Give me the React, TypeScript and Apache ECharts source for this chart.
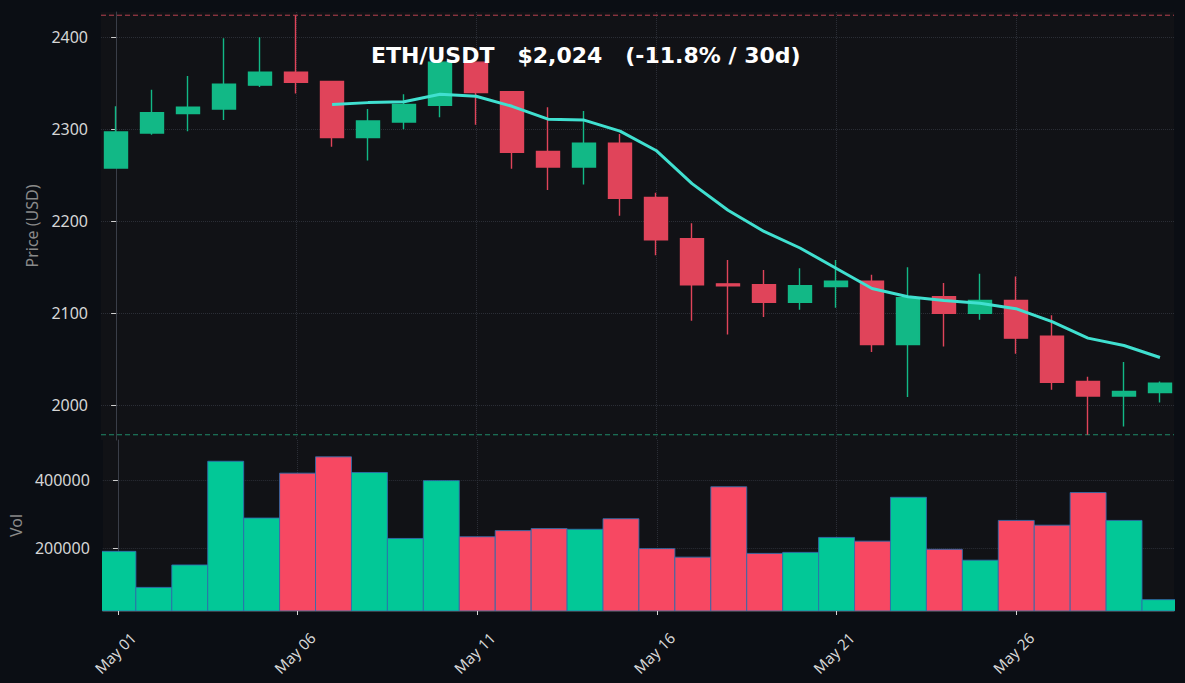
import React, { useEffect, useRef } from "react";
import * as echarts from "echarts";

const dates = [
  "May 01", "May 02", "May 03", "May 04", "May 05", "May 06", "May 07", "May 08", "May 09", "May 10",
  "May 11", "May 12", "May 13", "May 14", "May 15", "May 16", "May 17", "May 18", "May 19", "May 20",
  "May 21", "May 22", "May 23", "May 24", "May 25", "May 26", "May 27", "May 28", "May 29", "May 30",
];
const opens = [
  2258, 2296, 2317, 2322, 2348, 2362, 2352, 2291, 2308, 2326,
  2373, 2341, 2276, 2259, 2285, 2226, 2181, 2132, 2131, 2112,
  2129, 2135, 2066, 2118, 2100, 2114, 2075, 2026, 2010, 2014,
];
const closes = [
  2297, 2318, 2324, 2349, 2362, 2351, 2291, 2309, 2327, 2373,
  2340, 2275, 2259, 2285, 2225, 2180, 2131, 2130, 2112, 2130,
  2135, 2066, 2117, 2100, 2114, 2073, 2025, 2010, 2015, 2024,
];
const lows = [
  2257, 2294, 2298, 2310, 2346, 2339, 2281, 2266, 2300, 2313,
  2305, 2257, 2234, 2240, 2206, 2163, 2092, 2077, 2096, 2104,
  2106, 2058, 2009, 2064, 2093, 2056, 2017, 1968, 1977, 2003,
];
const highs = [
  2325, 2343, 2358, 2399, 2400, 2424, 2352, 2322, 2338, 2373,
  2373, 2341, 2324, 2320, 2295, 2231, 2198, 2158, 2147, 2149,
  2158, 2142, 2150, 2133, 2143, 2140, 2098, 2031, 2047, 2026,
];
const volumes = [
  191000, 85000, 151000, 456000, 289000, 421000, 469000, 423000, 229000, 399000,
  234000, 252000, 258000, 256000, 287000, 199000, 174000, 381000, 185000, 188000,
  232000, 221000, 350000, 197000, 165000, 282000, 268000, 364000, 282000, 49000,
];
const ma7 = [
  null, null, null, null, null, null, 2327, 2329, 2330, 2338,
  2336, 2325, 2311, 2310, 2298, 2277, 2241, 2212, 2189, 2171,
  2149, 2127, 2118, 2114, 2111, 2105, 2091, 2073, 2065, 2052,
];
const priceTicks = [2000, 2100, 2200, 2300, 2400];
const volTicks = [200000, 400000];
const dateTickIdx = [0, 5, 10, 15, 20, 25];
const TITLE = "ETH/USDT   $2,024   (-11.8% / 30d)";

const UP = "#12b886";
const DOWN = "#e0445a";
const VOL_UP = "#02c897";
const VOL_DOWN = "#f74862";
const FONT = "Noto Sans";
const HIGH_LINE = "#b8404f";
const LOW_LINE = "#1f8a68";
const X_MIN = -0.42;
const X_MAX = 29.39;

export default function App() {
  const ref = useRef<HTMLDivElement>(null);
  useEffect(() => {
    const chart = echarts.init(ref.current!, null, { renderer: "svg" });
    const maxHigh = Math.max(...highs);
    const minLow = Math.min(...lows);
    const gridLine = { show: true, lineStyle: { color: "#2b2e36", type: "dotted", width: 1 } };
    const tickLabel = { color: "#d6d6d6", fontSize: 16, fontFamily: FONT };
    const spine = { show: true, lineStyle: { color: "#3a3e48", width: 1 } };
    const refLine = (value: number, color: string) => ({
      type: "line",
      xAxisIndex: 0,
      yAxisIndex: 0,
      silent: true,
      showSymbol: false,
      symbol: "none",
      data: [[X_MIN, value], [X_MAX, value]],
      lineStyle: { color, type: [5, 3], width: 1 },
      itemStyle: { color },
      z: 1,
    });
    const option: any = {
      animation: false,
      backgroundColor: "#0b0e14",
      grid: [
        { left: 101, right: 11, top: 12, height: 428, show: true, backgroundColor: "#111216", borderWidth: 0 },
        { left: 101, right: 11, top: 440, height: 171, show: true, backgroundColor: "#111216", borderWidth: 0 },
      ],
      xAxis: [
        {
          type: "value", gridIndex: 0, min: X_MIN, max: X_MAX,
          axisLine: { show: false },
          axisTick: { show: false, customValues: dateTickIdx },
          axisLabel: { show: false, customValues: dateTickIdx },
          splitLine: gridLine,
        },
        {
          type: "value", gridIndex: 1, min: X_MIN, max: X_MAX,
          axisLine: spine,
          axisTick: { show: true, length: 4, lineStyle: { color: "#d6d6d6" }, customValues: dateTickIdx },
          axisLabel: {
            ...tickLabel, fontSize: 15, rotate: 45, margin: 39, align: "center", verticalAlign: "middle",
            padding: [0, 8, 0, 0],
            customValues: dateTickIdx,
            formatter: (v: number) => dates[Math.round(v)] ?? "",
          },
          splitLine: gridLine,
        },
      ],
      yAxis: [
        {
          type: "value", gridIndex: 0, min: 1962.3, max: 2427.5,
          name: "Price (USD)", nameLocation: "middle", nameGap: 57,
          nameTextStyle: { color: "#8a8a8a", fontSize: 16, fontFamily: FONT },
          axisLine: spine,
          axisTick: { show: true, length: 5, lineStyle: { color: "#cfcfcf" }, customValues: priceTicks },
          axisLabel: { ...tickLabel, margin: 13, customValues: priceTicks, formatter: (v: number) => String(v) },
          splitLine: gridLine,
        },
        {
          type: "value", gridIndex: 1, min: 15600, max: 518500,
          name: "Vol", nameLocation: "middle", nameGap: 77,
          nameTextStyle: { color: "#8a8a8a", fontSize: 16, fontFamily: FONT },
          axisLine: spine,
          axisTick: { show: true, length: 5, lineStyle: { color: "#cfcfcf" }, customValues: volTicks },
          axisLabel: { ...tickLabel, margin: 13, customValues: volTicks, formatter: (v: number) => String(v) },
          splitLine: gridLine,
        },
      ],
      series: [
        {
          type: "custom",
          xAxisIndex: 1,
          yAxisIndex: 1,
          clip: true,
          encode: { x: 0, y: 1 },
          data: volumes.map((v, i) => [i, v, closes[i] >= opens[i] ? 1 : 0]),
          renderItem: (params: any, api: any) => {
            const x = api.value(0);
            const v = api.value(1);
            const up = api.value(2) === 1;
            const left = api.coord([x - 0.5, v]);
            const right = api.coord([x + 0.5, v]);
            const bottom = params.coordSys.y + params.coordSys.height;
            return {
              type: "rect",
              shape: { x: left[0], y: left[1], width: right[0] - left[0], height: bottom - left[1] },
              style: {
                fill: up ? VOL_UP : VOL_DOWN,
                stroke: "rgba(48,110,175,0.85)",
                lineWidth: 1,
              },
            };
          },
        },
        refLine(maxHigh, HIGH_LINE),
        refLine(minLow, LOW_LINE),
        {
          type: "candlestick",
          xAxisIndex: 0,
          yAxisIndex: 0,
          dimensions: ["x", "open", "close", "lowest", "highest"],
          encode: { x: "x", y: ["open", "close", "lowest", "highest"] },
          barWidth: 24,
          data: dates.map((_, i) => [i, opens[i], closes[i], lows[i], highs[i]]),
          itemStyle: { color: UP, color0: DOWN, borderColor: UP, borderColor0: DOWN, borderWidth: 1.4 },
          z: 3,
        },
        {
          type: "line",
          xAxisIndex: 0,
          yAxisIndex: 0,
          showSymbol: false,
          data: ma7.map((v, i) => [i, v]).filter((p) => p[1] !== null),
          lineStyle: { color: "#40e0d0", width: 3 },
          itemStyle: { color: "#40e0d0" },
          z: 5,
        },
      ],
      graphic: [
        {
          type: "text",
          left: 371,
          top: 44,
          z: 100,
          style: {
            text: TITLE,
            fill: "#ffffff",
            fontSize: 22,
            fontWeight: "bold",
            fontFamily: "DejaVu Sans",
          },
        },
      ],
    };
    chart.setOption(option);
    return () => chart.dispose();
  }, []);
  return (
    <div
      ref={ref}
      style={{ position: "fixed", left: 0, top: 0, width: 1185, height: 683, background: "#0b0e14" }}
    />
  );
}
